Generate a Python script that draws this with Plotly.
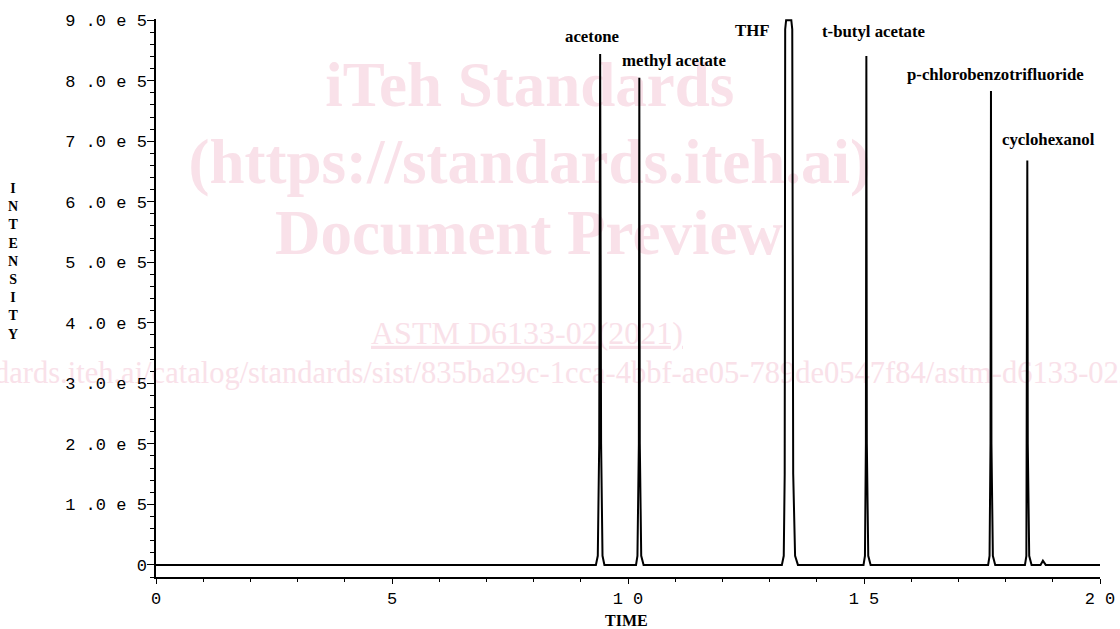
import plotly.graph_objects as go

# ---- chromatogram trace (time in min, intensity in counts) ----
time = [0.0,
        9.32, 9.36, 9.39, 9.41, 9.43, 9.46, 9.50,
        10.17, 10.20, 10.23, 10.24, 10.25, 10.28, 10.33,
        13.26, 13.30, 13.32, 13.33, 13.35, 13.46, 13.48, 13.50, 13.54, 13.60,
        14.99, 15.02, 15.04, 15.05, 15.06, 15.09, 15.14,
        17.63, 17.66, 17.68, 17.69, 17.70, 17.73, 17.78,
        18.41, 18.44, 18.45, 18.46, 18.47, 18.50, 18.55,
        18.74, 18.79, 18.85,
        20.0]
intensity = [0.0,
             0.0, 0.15e5, 2.0e5, 8.44e5, 2.0e5, 0.15e5, 0.0,
             0.0, 0.15e5, 2.0e5, 8.05e5, 2.0e5, 0.15e5, 0.0,
             0.0, 0.15e5, 1.5e5, 8.85e5, 9.0e5, 9.0e5, 8.85e5, 1.5e5, 0.15e5, 0.0,
             0.0, 0.15e5, 2.0e5, 8.41e5, 2.0e5, 0.15e5, 0.0,
             0.0, 0.15e5, 2.0e5, 7.83e5, 2.0e5, 0.15e5, 0.0,
             0.0, 0.15e5, 2.0e5, 6.68e5, 2.0e5, 0.15e5, 0.0,
             0.0, 0.07e5, 0.0,
             0.0]

# ---- peak labels ----
peak_names = ["acetone", "methyl acetate", "THF", "t-butyl acetate",
              "p-chlorobenzotrifluoride", "cyclohexanol"]
peak_rt = [9.41, 10.24, 13.40, 15.05, 17.69, 18.46]
peak_height = [8.44e5, 8.05e5, 9.0e5, 8.41e5, 7.83e5, 6.68e5]

# ---- axis ticks ----
y_tickvals = [0, 1e5, 2e5, 3e5, 4e5, 5e5, 6e5, 7e5, 8e5, 9e5]
y_ticktext = ["0", "1 .0 e 5", "2 .0 e 5", "3 .0 e 5", "4 .0 e 5",
              "5 .0 e 5", "6 .0 e 5", "7 .0 e 5", "8 .0 e 5", "9 .0 e 5"]
x_tickvals = [0, 5, 10, 15, 20]
x_ticktext = ["0", "5", "1 0", "1 5", "2 0"]

# label offsets in pixels (style only)
label_shift = [(-8, 18), (35, 17), (-36, -10), (8, 24), (5, 17), (21, 21)]

fig = go.Figure()
fig.add_trace(go.Scatter(x=time, y=intensity, mode="lines",
                         line=dict(color="black", width=2),
                         hoverinfo="skip", showlegend=False))

annotations = []
for name, rt, h, (dx, dy) in zip(peak_names, peak_rt, peak_height, label_shift):
    annotations.append(dict(x=rt, y=h, xref="x", yref="y", text=f"<b>{name}</b>",
                            showarrow=False, xanchor="center", yanchor="middle",
                            xshift=dx, yshift=dy,
                            font=dict(family="Liberation Serif", size=16.8, color="black")))

annotations.append(dict(x=-0.151, y=0.566, xref="paper", yref="paper",
                        text="<br>".join("<b>%s</b>" % c for c in "INTENSITY"),
                        showarrow=False, xanchor="center", yanchor="middle",
                        font=dict(family="Liberation Serif", size=14, color="black")))
annotations.append(dict(x=0.498, y=-0.078, xref="paper", yref="paper",
                        text="<b>TIME</b>", showarrow=False,
                        xanchor="center", yanchor="middle",
                        font=dict(family="Liberation Serif", size=16, color="black")))

# watermark (drawn below the trace)
wm_color = "#f9e1e9"
watermark = [
    ("<b>iTeh Standards</b>", 0.396, 0.894, 63),
    ("<b>(https://standards.iteh.ai)</b>", 0.396, 0.757, 63),
    ("<b>Document Preview</b>", 0.395, 0.629, 63),
    ("<u>ASTM D6133-02(2021)</u>", 0.393, 0.443, 32),
    ("https://standards.iteh.ai/catalog/standards/sist/835ba29c-1cca-4bbf-ae05-789de0547f84/astm-d6133-022021",
     0.3856, 0.371, 30.5),
]
shapes = []
for txt, cx, cy, fs in watermark:
    shapes.append(dict(type="rect", xref="paper", yref="paper",
                       x0=cx - 0.005, x1=cx + 0.005, y0=cy - 0.005, y1=cy + 0.005,
                       line=dict(width=0), fillcolor="rgba(0,0,0,0)", layer="below",
                       label=dict(text=txt, textposition="middle center",
                                  font=dict(family="Liberation Serif", size=fs, color=wm_color))))

fig.update_layout(
    width=1120, height=629,
    margin=dict(l=156, r=20, t=19, b=52, pad=0),
    paper_bgcolor="white", plot_bgcolor="white",
    annotations=annotations, shapes=shapes,
    showlegend=False,
)
fig.update_xaxes(range=[0, 20], showgrid=False, zeroline=False, automargin=False,
                 showline=True, linecolor="black", linewidth=1.5,
                 ticks="outside", ticklen=5, tickwidth=1.2, tickcolor="black",
                 tickvals=x_tickvals, ticktext=x_ticktext,
                 tickfont=dict(family="Liberation Mono", size=17, color="black"),
                 minor=dict(dtick=1, ticks="outside", ticklen=3, tickwidth=1, tickcolor="black"))
fig.update_yaxes(range=[-0.2e5, 9.02e5], showgrid=False, zeroline=False, automargin=False,
                 showline=True, linecolor="black", linewidth=1.5,
                 ticks="outside", ticklen=7, tickwidth=1.2, tickcolor="black",
                 tickvals=y_tickvals, ticktext=y_ticktext, ticklabelstandoff=-3,
                 tickfont=dict(family="Liberation Mono", size=17, color="black"),
                 minor=dict(tick0=0, dtick=2e4, ticks="outside", ticklen=4, tickwidth=1, tickcolor="black"))

fig.write_html("out.html")
